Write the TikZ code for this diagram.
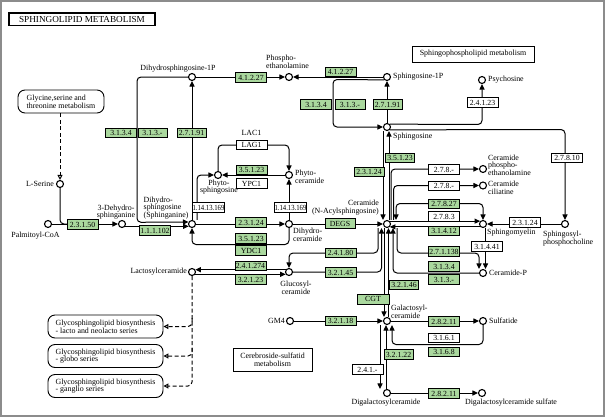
\documentclass[tikz,border=0pt]{standalone}
\usepackage{fontspec}
\setmainfont{Liberation Serif}
\usetikzlibrary{arrows.meta,calc}
\definecolor{ecg}{RGB}{170,216,158}
\tikzset{
  cpd/.style={circle,draw,line width=1.1pt,fill=white,inner sep=0pt,minimum size=7pt},
  ecbox/.style={draw,line width=0.8pt,fill=ecg,inner sep=0pt,minimum width=31pt,minimum height=9.5pt,font=\fontsize{7.8}{8}\selectfont},
  ecwhite/.style={ecbox,fill=white},
  lbl/.style={inner sep=0pt,font=\fontsize{7.9}{7.6}\selectfont,align=center},
  mapbox/.style={draw,line width=0.9pt,inner sep=0pt,align=left,font=\fontsize{7.9}{7.6}\selectfont},
  conn/.style={line width=1pt,rounded corners=4pt},
  arr/.style={conn,-{Triangle[length=5.5pt,width=5pt]}},
  darr/.style={conn,{Triangle[length=5.5pt,width=5pt]}-{Triangle[length=5.5pt,width=5pt]}},
  dline/.style={line width=1pt,dash pattern=on 4pt off 2.5pt,rounded corners=4pt,-{Triangle[open,length=5pt,width=5pt]}},
}
\begin{document}
\begin{tikzpicture}[x=1pt,y=-1pt]
\useasboundingbox (0,0) rectangle (605,418);
\draw[black!45,line width=1.6pt] (0.8,0.8) rectangle (604.2,416);

% map boxes
\node[mapbox,line width=1.5pt,minimum width=146pt,minimum height=12.5pt,font=\fontsize{9.2}{9}\selectfont] (title) at (82,19) {SPHINGOLIPID METABOLISM};
\node[mapbox,minimum width=122pt,minimum height=16pt] (spl) at (473,54) {Sphingophospholipid metabolism};
\node[mapbox,rounded corners=7pt,minimum width=86pt,minimum height=23pt] (gly) at (61,101.5) {Glycine,serine and\\threonine metabolism};
\node[mapbox,rounded corners=7pt,minimum width=115pt,minimum height=23pt] (gsl1) at (105.5,326.5) {Glycosphingolipid biosynthesis\\- lacto and neolacto series};
\node[mapbox,rounded corners=7pt,minimum width=115pt,minimum height=23pt] (gsl2) at (105.5,356) {Glycosphingolipid biosynthesis\\- globo series};
\node[mapbox,rounded corners=7pt,minimum width=115pt,minimum height=23pt] (gsl3) at (105.5,386) {Glycosphingolipid biosynthesis\\- ganglio series};
\node[mapbox,align=center,minimum width=79pt,minimum height=23pt] (cs) at (272.5,359.5) {Cerebroside-sulfatid\\metabolism};

% compounds
\node[cpd] (dhsp) at (192,77) {};
\node[cpd] (pe) at (289,77) {};
\node[cpd] (sp) at (387,77) {};
\node[cpd] (psy) at (482,80) {};
\node[cpd] (sph) at (387,127) {};
\node[cpd] (ser) at (60,184) {};
\node[cpd] (pcoa) at (48,224) {};
\node[cpd] (kds) at (122,224) {};
\node[cpd] (dhs) at (192,224) {};
\node[cpd] (physph) at (218,175) {};
\node[cpd] (phycer) at (289,175) {};
\node[cpd] (dhcer) at (289,224) {};
\node[cpd] (cer) at (387,224) {};
\node[cpd] (cpe) at (483,169) {};
\node[cpd] (cci) at (483,185.5) {};
\node[cpd] (sm) at (483,224) {};
\node[cpd] (spc) at (565,224) {};
\node[cpd] (cerp) at (483,273) {};
\node[cpd] (lac) at (192,272) {};
\node[cpd] (glc) at (289,272) {};
\node[cpd] (gm4) at (290,321) {};
\node[cpd] (gal) at (387,321) {};
\node[cpd] (sulf) at (483,321) {};
\node[cpd] (digal) at (387,393) {};
\node[cpd] (digals) at (482,393) {};

% connectors - left
\draw[dline] (gly.south -| ser) -- (ser);
\draw[conn] (ser) -- (60,224) -- (72,224);
\draw[arr] (pcoa) -- (kds);
\draw[arr] (kds.-35) -- (dhs.215);
\draw[arr] (dhsp.west) -- (137,77) -- (137,222.3) -- (dhs.150);
\draw[arr] (dhs) -- (dhsp);
\draw[arr] (dhsp) -- (pe);
\draw[arr] (sp) -- (pe);
\draw[arr] (sph) -- (sp);
\draw[arr] (sp.225) -- (333,79.5) -- (333,127) -- (sph);
\draw[arr] (sph.45) -- (482,124.5) -- (psy);
\draw[arr] (sph.-45) -- (565,129.5) -- (spc);
\draw[arr] (spc) -- (sm);
\draw[arr] ([xshift=-4pt]sph.south) -- ([xshift=-4pt]cer.north);
\draw[arr] ([xshift=2pt]cer.north) -- ([xshift=2pt]sph.south);

% phyto
\draw[arr] ([xshift=5pt]dhs.north) -- (197,175) -- (physph);
\draw[arr] (physph.north) -- (218,145) -- (289,145) -- (phycer.north);
\draw[arr] (phycer) -- (physph);
\draw[arr] (dhcer) -- (phycer);
\draw[arr] (dhs) -- (dhcer);
\draw[arr] (dhcer.south) -- (289,244.5) -- (192,244.5) -- (dhs.south);
\draw[arr] (dhcer) -- (cer);

% ceramide right
\draw[arr] ([xshift=4pt]cer.north) -- (391,169) -- (cpe);
\draw[arr] ([xshift=6.5pt]cer.north) -- (393.5,185.5) -- (cci);
\draw[darr] ([xshift=9pt]cer.north) -- (396,203.5) -- (483,203.5) -- (sm.north);
\draw[arr] (cer.45) -- (sm.135);
\draw[arr] (sm.-135) -- (cer.-45);
\draw[arr] ([xshift=2.5pt]sm.south) -- ([xshift=2.5pt]cerp.north);
\draw[arr] ([xshift=10pt]cer.south) -- (397,253) -- (479,253) -- ([xshift=-4pt]cerp.north);
\draw[arr] (cerp.west) -- (393,273) -- ([xshift=6pt]cer.south);

% ceramide down
\draw[arr] ([xshift=-9pt]cer.south) -- (378,253) -- (289,253) -- (glc);
\draw[arr] (glc) -- (381.5,272) -- ([xshift=-5.5pt]cer.south);
\draw[arr] ([xshift=-3pt]cer.south) -- ([xshift=-3pt]gal.north);
\draw[arr] ([xshift=1.5pt]gal.north) -- ([xshift=1.5pt]cer.south);

% lac / glc
\draw[arr] (glc.145) -- (lac.35);
\draw[arr] (lac.-35) -- (glc.-145);

% galactosyl
\draw[arr] (gm4) -- (gal);
\draw[arr] (gal) -- (sulf);
\draw[arr] (sulf) -- (483,344.5) -- (392,344.5) -- ([xshift=5pt]gal.south);
\draw[arr] ([xshift=-7pt]gal.south) -- ([xshift=-7pt]digal.north);
\draw[arr] ([xshift=-1pt]digal.north) -- ([xshift=-1pt]gal.south);
\draw[arr] (digal) -- (digals);

% dashed to glycosphingolipid
\draw[dline] (lac) -- (192,386) -- (gsl3.east);
\draw[dline] (192,318) -- (192,326.5) -- (gsl1.east);
\draw[dline] (192,348) -- (192,356) -- (gsl2.east);

% enzyme boxes
\node[ecbox] at (82.5,224.5) {2.3.1.50};
\node[ecbox] at (155,230.5) {1.1.1.102};
\node[ecbox] at (121,133) {3.1.3.4};
\node[ecbox,minimum width=29pt] at (152.5,133) {3.1.3.-};
\node[ecbox,minimum width=29pt] at (191.5,133) {2.7.1.91};
\node[ecbox] at (251,77.5) {4.1.2.27};
\node[ecbox] at (340.5,72) {4.1.2.27};
\node[ecbox] at (316,104.5) {3.1.3.4};
\node[ecbox,minimum width=30pt] at (350,104.5) {3.1.3.-};
\node[ecbox,minimum width=29pt] at (387.5,104.5) {2.7.1.91};
\node[ecwhite] at (482.5,102.5) {2.4.1.23};
\node[ecwhite] at (567,158) {2.7.8.10};
\node[ecbox,minimum width=29pt] at (400,158) {3.5.1.23};
\node[ecbox,minimum width=30pt] at (369,172) {2.3.1.24};
\node[ecwhite] at (251.5,145) {LAG1};
\node[lbl] at (251.5,133) {LAC1};
\node[ecbox] at (251.5,170) {3.5.1.23};
\node[ecwhite] at (251.5,183.5) {YPC1};
\node[ecwhite,minimum width=29pt] at (208.5,207.5) {\scalebox{0.86}[1]{1.14.13.169}};
\node[ecwhite,minimum width=29pt] at (290.5,207.5) {\scalebox{0.86}[1]{1.14.13.169}};
\node[ecbox] at (251,222.5) {2.3.1.24};
\node[ecbox] at (251,238.5) {3.5.1.23};
\node[ecbox] at (251,250.5) {YDC1};
\node[ecbox,minimum width=30pt] at (340,223.5) {DEGS};
\node[ecwhite] at (444,169.5) {2.7.8.-};
\node[ecwhite] at (444,186) {2.7.8.-};
\node[ecbox] at (444,204) {2.7.8.27};
\node[ecwhite] at (444,216.5) {2.7.8.3};
\node[ecbox] at (444,231) {3.1.4.12};
\node[ecwhite] at (525,222.5) {2.3.1.24};
\node[ecbox] at (444,251.5) {2.7.1.138};
\node[ecbox] at (444,266.5) {3.1.3.4};
\node[ecbox] at (444,279.5) {3.1.3.-};
\node[ecwhite] at (487,246.5) {3.1.4.41};
\node[ecbox] at (340.5,253) {2.4.1.80};
\node[ecbox] at (340.5,272.5) {3.2.1.45};
\node[ecbox] at (250.5,266) {2.4.1.274};
\node[ecbox] at (250.5,279.5) {3.2.1.23};
\node[ecbox,minimum width=32pt,minimum height=10pt] at (373,299) {CGT};
\node[ecbox,minimum width=29pt] at (404,285) {3.2.1.46};
\node[ecbox] at (340.5,321) {3.2.1.18};
\node[ecbox] at (444,321.5) {2.8.2.11};
\node[ecwhite] at (444,338) {3.1.6.1};
\node[ecbox] at (444,352) {3.1.6.8};
\node[ecbox,minimum width=29pt] at (398.5,354.5) {3.2.1.22};
\node[ecwhite] at (367.5,369.5) {2.4.1.-};
\node[ecbox] at (444,393.5) {2.8.2.11};

% compound labels
\node[lbl] at (178,69) {Dihydrosphingosine-1P};
\node[lbl,anchor=west,align=left] at (266,62) {Phospho-\\ethanolamine};
\node[lbl,anchor=west] at (393,77) {Sphingosine-1P};
\node[lbl,anchor=west] at (488,80) {Psychosine};
\node[lbl,anchor=west] at (393,137) {Sphingosine};
\node[lbl,anchor=east] at (54,184) {L-Serine};
\node[lbl] at (35.5,236) {Palmitoyl-CoA};
\node[lbl] at (116,212) {3-Dehydro-\\sphinganine};
\node[lbl,anchor=west,align=left] at (143.5,208) {Dihydro-\\sphingosine\\(Sphinganine)};
\node[lbl] at (219,187) {Phyto-\\sphingosine};
\node[lbl,anchor=west,align=left] at (295,176.5) {Phyto-\\ceramide};
\node[lbl,anchor=west,align=left] at (293,235) {Dihydro-\\ceramide};
\node[lbl,anchor=east,align=right] at (379,207.5) {Ceramide\\(N-Acylsphingosine)};
\node[lbl,anchor=west,align=left] at (488,165) {Ceramide\\phospho-\\ethanolamine};
\node[lbl,anchor=west,align=left] at (488,188) {Ceramide\\ciliatine};
\node[lbl,anchor=west] at (487,233) {Sphingomyelin};
\node[lbl,anchor=west,align=left] at (543,238.5) {Sphingosyl-\\phosphocholine};
\node[lbl,anchor=west] at (489,273) {Ceramide-P};
\node[lbl,anchor=east] at (187,272) {Lactosylceramide};
\node[lbl] at (296,288) {Glucosyl-\\ceramide};
\node[lbl,anchor=east] at (285,321) {GM4};
\node[lbl,anchor=west,align=left] at (391,311.5) {Galactosyl-\\ceramide};
\node[lbl,anchor=west] at (489,321) {Sulfatide};
\node[lbl] at (386,403) {Digalactosylceramide};
\node[lbl] at (511,403) {Digalactosylceramide sulfate};
\end{tikzpicture}
\end{document}
